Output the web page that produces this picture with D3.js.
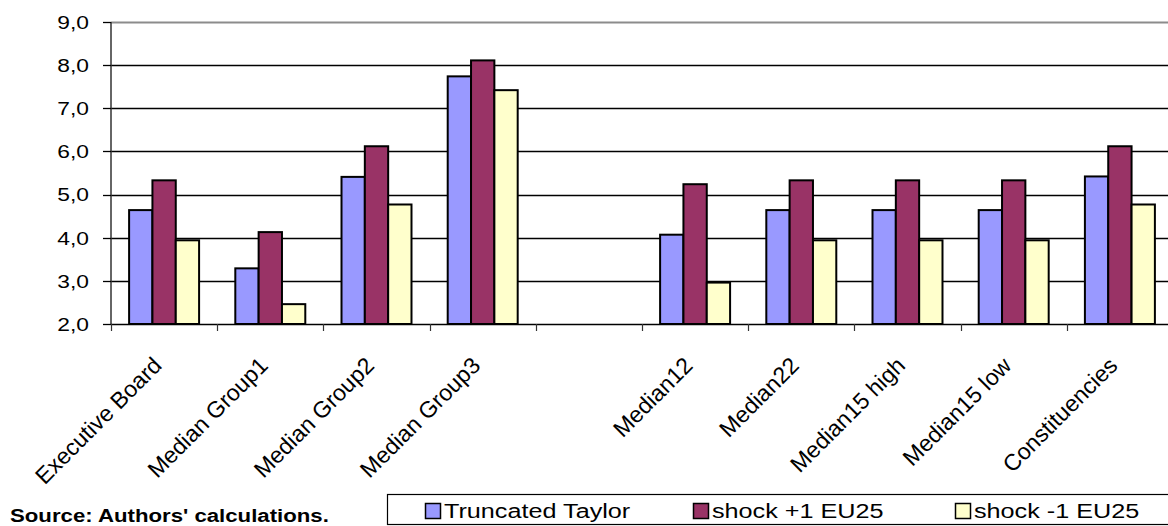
<!DOCTYPE html>
<html>
<head>
<meta charset="utf-8">
<script src="https://cdn.jsdelivr.net/npm/d3@7"></script>
<style>
  html, body { margin: 0; padding: 0; background: #fff; }
  svg { display: block; font-family: "Liberation Sans", Arial, sans-serif; }
</style>
</head>
<body>
<svg id="chart" width="1168" height="526"></svg>
<script>
// Categories along the x axis (one empty slot separates the two groups)
const categories = ["Executive Board", "Median Group1", "Median Group2", "Median Group3", "",
                    "Median12", "Median22", "Median15 high", "Median15 low", "Constituencies"];
const seriesNames = ["Truncated Taylor", "shock +1 EU25", "shock -1 EU25"];
const seriesColors = ["#9999FF", "#993366", "#FFFFCC"];

// Series values per category (null = no bar)
const truncatedTaylor = [4.64, 3.29, 5.41, 7.74, null, 4.07, 4.64, 4.64, 4.64, 5.42];
const shockPlus1      = [5.33, 4.13, 6.12, 8.11, null, 5.24, 5.33, 5.33, 5.33, 6.12];
const shockMinus1     = [3.94, 2.46, 4.77, 7.42, null, 2.96, 3.94, 3.94, 3.94, 4.77];

const yTicks = [2, 3, 4, 5, 6, 7, 8, 9];
const yTickLabels = ["2,0", "3,0", "4,0", "5,0", "6,0", "7,0", "8,0", "9,0"];

const seriesValues = [truncatedTaylor, shockPlus1, shockMinus1];
const stretch = 1.2;

const svg = d3.select("#chart");
const plot = { left: 111, top: 22, bottom: 324, step: 106.2 };
plot.right = plot.left + plot.step * categories.length;

const x = d3.scaleBand()
  .domain(d3.range(categories.length))
  .range([plot.left, plot.right])
  .paddingInner(0.341)
  .paddingOuter(0.1705);

const xs = d3.scaleBand()
  .domain(d3.range(seriesNames.length))
  .range([0, x.bandwidth()]);

const y = d3.scaleLinear().domain([2, 9]).range([plot.bottom, plot.top]);

// Horizontal gridlines
svg.append("g")
  .selectAll("line")
  .data(yTicks.filter(t => t > 2 && t < 9))
  .join("line")
  .attr("x1", plot.left).attr("x2", 1168)
  .attr("y1", d => Math.round(y(d)) + 0.5).attr("y2", d => Math.round(y(d)) + 0.5)
  .attr("stroke", "#000").attr("stroke-width", 1.3);

// Plot area top border
svg.append("line")
  .attr("x1", plot.left).attr("x2", 1168)
  .attr("y1", y(9) + 0.5).attr("y2", y(9) + 0.5)
  .attr("stroke", "#8c8c8c").attr("stroke-width", 2);

// Bars
const groups = svg.append("g")
  .selectAll("g")
  .data(categories.map((c, i) => i))
  .join("g")
  .attr("transform", i => `translate(${x(i)},0)`);

groups.selectAll("rect")
  .data(i => seriesValues.map((vals, s) => ({ s, v: vals[i] })).filter(d => d.v != null))
  .join("rect")
  .attr("x", d => xs(d.s))
  .attr("width", xs.bandwidth())
  .attr("y", d => y(d.v))
  .attr("height", d => y(2) - y(d.v))
  .attr("fill", d => seriesColors[d.s])
  .attr("stroke", "#000")
  .attr("stroke-width", 2);

// Y axis
const yAxis = svg.append("g").attr("transform", `translate(${plot.left},0)`);
yAxis.append("line")
  .attr("x1", 0).attr("x2", 0).attr("y1", plot.top).attr("y2", plot.bottom)
  .attr("stroke", "#333").attr("stroke-width", 1.5);
yAxis.selectAll(".tick")
  .data(yTicks)
  .join("line")
  .attr("x1", -8).attr("x2", 0)
  .attr("y1", d => Math.round(y(d)) + 0.5).attr("y2", d => Math.round(y(d)) + 0.5)
  .attr("stroke", "#000").attr("stroke-width", 1.3);
yAxis.selectAll("text")
  .data(yTicks)
  .join("text")
  .attr("transform", d => `translate(-22,${y(d)}) scale(${stretch},1)`)
  .attr("text-anchor", "end")
  .attr("dy", "0.36em")
  .attr("font-size", 19)
  .attr("fill", "#000")
  .text((d, i) => yTickLabels[i]);

// X axis
const xAxis = svg.append("g");
xAxis.append("line")
  .attr("x1", plot.left).attr("x2", 1168)
  .attr("y1", plot.bottom + 0.5).attr("y2", plot.bottom + 0.5)
  .attr("stroke", "#000").attr("stroke-width", 1.5);
xAxis.selectAll(".xtick")
  .data(d3.range(categories.length + 1))
  .join("line")
  .attr("x1", i => Math.round(plot.left + i * plot.step) + 0.5)
  .attr("x2", i => Math.round(plot.left + i * plot.step) + 0.5)
  .attr("y1", plot.bottom).attr("y2", plot.bottom + 7)
  .attr("stroke", "#333").attr("stroke-width", 1.2);
xAxis.selectAll("text")
  .data(categories.map((c, i) => i).filter(i => categories[i] !== ""))
  .join("text")
  .attr("transform", i => `translate(${x(i) + x.bandwidth() / 2 - 1},367) rotate(-45)`)
  .attr("text-anchor", "end")
  .attr("font-size", 23)
  .attr("fill", "#000")
  .text(i => categories[i]);

// Source note
svg.append("text")
  .attr("transform", `translate(10,522) scale(${stretch},1)`)
  .attr("font-size", 18.5)
  .attr("font-weight", "bold")
  .attr("fill", "#000")
  .text("Source: Authors' calculations.");

// Legend
const legend = svg.append("g");
legend.append("rect")
  .attr("x", 387.5).attr("y", 494.5)
  .attr("width", 800).attr("height", 30)
  .attr("fill", "#fff").attr("stroke", "#000").attr("stroke-width", 1.2);
const legendX = [425, 693, 955];
const items = legend.selectAll(".item")
  .data(seriesNames.map((n, i) => i))
  .join("g")
  .attr("transform", i => `translate(${legendX[i]},0)`);
items.append("rect")
  .attr("x", 0.5).attr("y", 503.5).attr("width", 15).attr("height", 15)
  .attr("fill", i => seriesColors[i]).attr("stroke", "#000").attr("stroke-width", 1.5);
items.append("text")
  .attr("transform", `translate(19,518) scale(${stretch},1)`)
  .attr("font-size", 21)
  .attr("fill", "#000")
  .text(i => seriesNames[i]);
</script>
</body>
</html>
